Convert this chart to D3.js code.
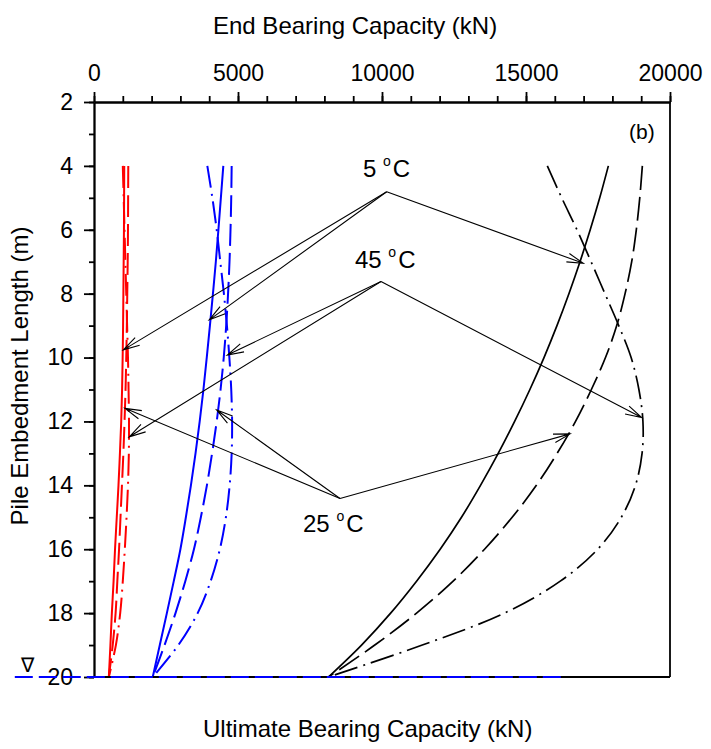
<!DOCTYPE html>
<html><head><meta charset="utf-8">
<script src="https://cdn.jsdelivr.net/npm/d3@7"></script>
<style>
body{margin:0;background:#fff}
svg{display:block}
text{font-family:"Liberation Sans",Arial,sans-serif;fill:#000}
</style>
</head><body>
<svg id="c" width="711" height="749"></svg>
<script>
// ---- data ----
const depths = [4,5,6,7,8,9,10,11,12,13,14,15,16,17,18,19,20];

// red group
const red5  = [1050,1045,1040,1030,1020,1010,995,975,945,900,850,790,730,680,620,570,515];
const red25 = [1190,1185,1180,1170,1155,1140,1120,1095,1060,1020,970,920,870,810,750,650,515];
const red45 = [1000,1030,1060,1090,1120,1150,1180,1200,1215,1210,1180,1130,1070,1000,910,760,515];
// blue group
const blue5  = [4490,4405,4320,4230,4130,4025,3915,3800,3670,3525,3365,3190,3000,2770,2530,2285,2040];
const blue25 = [4780,4765,4740,4705,4655,4590,4505,4395,4260,4100,3920,3710,3470,3170,2830,2450,2040];
const blue45 = [3935,4110,4260,4385,4510,4615,4700,4765,4795,4780,4710,4580,4370,4050,3600,2930,2040];
// black group
const black5  = [17860,17560,17230,16875,16490,16075,15625,15135,14605,14035,13420,12760,12020,11200,10300,9290,8140];
const black25 = [19040,18950,18830,18670,18440,18150,17760,17270,16720,16080,15360,14520,13560,12470,11200,9750,8140];
const black45 = [15740,16240,16770,17260,17740,18220,18650,18920,19060,19030,18800,18310,17490,16190,14250,11400,8140];

const xMajor = [0,5000,10000,15000,20000];
const xMinor = d3.range(0,20001,1000);
const yMajor = [2,4,6,8,10,12,14,16,18,20];
const yMinor = d3.range(2,20.01,1);

// temperature annotations
const tempNames = ["5","45","25"];
const tempLabelPos = [[9340,4.35],[9062,7.2],[7257,15.46]];
const arrowOrigins = [[10163,4.81],[9965,7.62],[8542,14.41]];
const arrowTargets = [
  [[16990,7.05],[4004,8.82],[1018,9.76]],
  [[19016,11.88],[4629,9.92],[1227,12.48]],
  [[16528,12.39],[4259,11.64],[1076,11.59]]
];
const waterLine = [[-2750,20],[16350,20]];
const waterMark = [-2300,19.84];
const panelTag = "(b)";
const panelTagPos = [18576,3.16];

// ---- scales ----
const x = d3.scaleLinear().domain([0,20000]).range([94,670]);
const y = d3.scaleLinear().domain([2,20]).range([102,677]);
const svg = d3.select("#c");

const series = [
  {v:red5,  c:"#ff0000", dash:null, w:2},
  {v:red25, c:"#ff0000", dash:"22,7", w:2},
  {v:red45, c:"#ff0000", dash:"22,6,2,6", w:2},
  {v:blue5,  c:"#0000ff", dash:null, w:2},
  {v:blue25, c:"#0000ff", dash:"22,7", w:2},
  {v:blue45, c:"#0000ff", dash:"22,6,2,6", w:2},
  {v:black5,  c:"#000", dash:null, w:1.7},
  {v:black25, c:"#000", dash:"24,7", w:1.7},
  {v:black45, c:"#000", dash:"24,6,2,6", w:1.7}
];
const line = d3.line().x(d=>x(d[0])).y(d=>y(d[1])).curve(d3.curveCatmullRom.alpha(0.5));
series.forEach(s=>{
  svg.append("path")
    .attr("d", line(s.v.map((v,i)=>[v,depths[i]])))
    .attr("fill","none").attr("stroke",s.c).attr("stroke-width",s.w)
    .attr("stroke-dasharray",s.dash);
});

// ---- axes ----
function styleAxis(g){
  g.selectAll("path,line").attr("stroke","#000").attr("stroke-width",1.8);
  g.selectAll("text").attr("font-size",23).attr("font-family","Liberation Sans, Arial, sans-serif").attr("fill","#000");
}
svg.append("g").attr("transform",`translate(0,${y(2)})`)
  .call(d3.axisTop(x).tickValues(xMinor).tickSize(6).tickSizeOuter(0).tickFormat(""))
  .call(styleAxis);
svg.append("g").attr("transform",`translate(0,${y(2)})`)
  .call(d3.axisTop(x).tickValues(xMajor).tickSize(10).tickSizeOuter(0).tickPadding(11).tickFormat(d3.format("d")))
  .call(styleAxis);
svg.append("g").attr("transform",`translate(${x(0)},0)`)
  .call(d3.axisLeft(y).tickValues(yMinor).tickSize(5).tickSizeOuter(0).tickFormat(""))
  .call(styleAxis);
svg.append("g").attr("transform",`translate(${x(0)},0)`)
  .call(d3.axisLeft(y).tickValues(yMajor).tickSize(10).tickSizeOuter(0).tickPadding(11).tickFormat(d3.format("d")))
  .call(styleAxis);
// right and bottom frame
svg.append("line").attr("x1",x(20000)).attr("x2",x(20000)).attr("y1",y(2)).attr("y2",y(20))
  .attr("stroke","#000").attr("stroke-width",1.8);
svg.append("line").attr("x1",x(0)).attr("x2",x(20000)).attr("y1",y(20)).attr("y2",y(20))
  .attr("stroke","#000").attr("stroke-width",2.2);

// ---- titles ----
svg.append("text").attr("x",213).attr("y",34).attr("font-size",24).text("End Bearing Capacity (kN)");
svg.append("text").attr("x",203).attr("y",737).attr("font-size",24).text("Ultimate Bearing Capacity (kN)");
svg.append("text").attr("transform","translate(28,376) rotate(-90)").attr("text-anchor","middle")
  .attr("font-size",24).text("Pile Embedment Length (m)");
svg.append("text").attr("x",x(panelTagPos[0])).attr("y",y(panelTagPos[1])).attr("font-size",21).text(panelTag);

// ---- annotations ----
const L = 17, th = 15*Math.PI/180;
tempNames.forEach((nm,k)=>{
  const t = svg.append("text").attr("x",x(tempLabelPos[k][0])).attr("y",y(tempLabelPos[k][1])).attr("font-size",24);
  t.append("tspan").text(nm+" ");
  t.append("tspan").attr("font-size",14).attr("dy",-11).text("o");
  t.append("tspan").attr("font-size",24).attr("dy",11).attr("dx",2).text("C");
  const o = arrowOrigins[k];
  arrowTargets[k].forEach(tg=>{
    const x0=x(o[0]), y0=y(o[1]), x1=x(tg[0]), y1=y(tg[1]);
    const a = Math.atan2(y0-y1, x0-x1);
    const p = d3.path();
    p.moveTo(x0,y0); p.lineTo(x1,y1);
    p.moveTo(x1+L*Math.cos(a+th), y1+L*Math.sin(a+th)); p.lineTo(x1,y1);
    p.lineTo(x1+L*Math.cos(a-th), y1+L*Math.sin(a-th));
    svg.append("path").attr("d",p.toString()).attr("fill","none").attr("stroke","#000").attr("stroke-width",1.1);
  });
});

// ---- water table ----
svg.append("line").attr("x1",x(waterLine[0][0])).attr("x2",x(waterLine[1][0]))
  .attr("y1",y(waterLine[0][1])).attr("y2",y(waterLine[1][1]))
  .attr("stroke","#0000ff").attr("stroke-width",2.2).attr("stroke-dasharray","18,6");
svg.append("text").attr("x",x(waterMark[0])).attr("y",y(waterMark[1])).attr("text-anchor","middle")
  .attr("font-family","DejaVu Sans, sans-serif").attr("font-size",20).text("∇");
</script>
</body></html>
